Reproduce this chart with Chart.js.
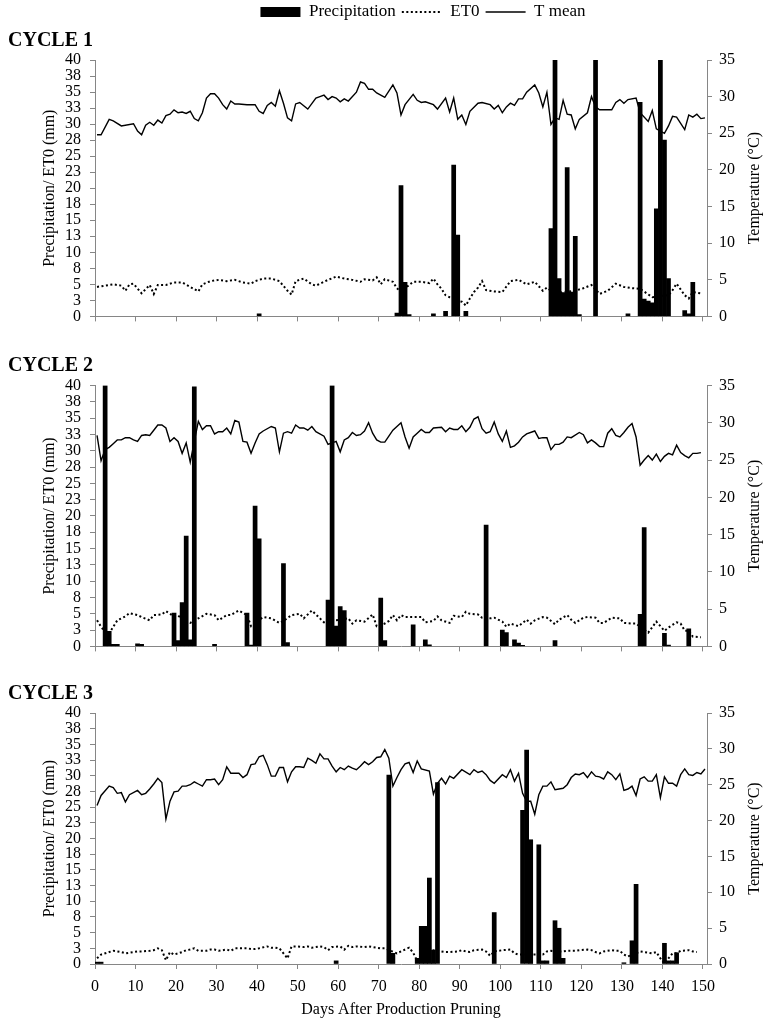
<!DOCTYPE html>
<html>
<head>
<meta charset="utf-8">
<script src="https://cdn.jsdelivr.net/npm/chart.js"></script>
<style>
html,body{margin:0;padding:0;background:#fff;}
#wrap{position:relative;width:767px;height:1025px;overflow:hidden;}
canvas{position:absolute;left:0;}
</style>
</head>
<body>
<div id="wrap">
<canvas id="c1" width="767" height="335" style="top:0px"></canvas>
<canvas id="c2" width="767" height="330" style="top:335px"></canvas>
<canvas id="c3" width="767" height="360" style="top:665px"></canvas>
</div>
<script>
// ---------- axis ticks / labels ----------
const DAY_TICKS = [0,10,20,30,40,50,60,70,80,90,100,110,120,130,140,150];
const DAY_AXIS_MAX = 151;
const PRECIP_TICK_VALUES = [0,2.5,5,7.5,10,12.5,15,17.5,20,22.5,25,27.5,30,32.5,35,37.5,40];
const PRECIP_TICK_LABELS = ['0','3','5','8','10','13','15','18','20','23','25','28','30','33','35','38','40'];
const TEMP_TICK_VALUES = [0,5,10,15,20,25,30,35];
const SERIES_NAMES = ['Precipitation','ET0','T mean'];
const CYCLE_TITLES = ['CYCLE 1','CYCLE 2','CYCLE 3'];
const LEFT_AXIS_TITLE = 'Precipitation/ ET0 (mm)';
const RIGHT_AXIS_TITLE = 'Temperature (°C)';
const X_AXIS_TITLE = 'Days After Production Pruning';

// ---------- CYCLE 1 : [day, value] ----------
const c1Rain = [[40,0.4],[74,0.5],[75,20.4],[76,5.3],[77,0.3],[83,0.4],[86,0.8],[88,23.6],[89,12.7],[91,0.8],
 [112,13.7],[113,40],[114,5.9],[115,3.7],[116,23.2],[117,3.8],[118,12.5],[119,0.3],[123,40],[131,0.4],
 [134,33.4],[135,2.7],[136,2.4],[137,2.1],[138,16.8],[139,40],[140,27.5],[141,5.9],[145,0.9],[146,0.4],[147,5.3]];
const c1ET0 = [[0,4.6],[2,4.8],[4,5.0],[6,4.8],[7,4.0],[8,5.0],[9,5.1],[11,3.6],[13,4.9],[14,3.5],[15,4.9],[17,4.9],
 [19,5.3],[21,5.3],[23,4.6],[25,3.9],[26,5.0],[28,5.5],[30,5.7],[32,5.5],[34,5.7],[36,5.3],[38,5.1],[39,5.5],[41,5.9],
 [43,5.9],[45,5.5],[47,4.0],[48,3.4],[49,5.5],[51,5.9],[53,5.0],[54,4.8],[57,5.7],[59,6.2],[61,5.9],[63,5.7],[65,5.4],
 [66,5.8],[68,5.6],[69,6.1],[70,5.0],[71,5.8],[73,5.4],[74,4.4],[75,3.8],[77,4.9],[78,5.4],[80,5.4],[82,5.2],[83,5.9],
 [84,5.0],[85,4.3],[86,3.3],[87,3.0],[88,2.9],[89,2.4],[90,2.3],[91,1.7],[92,2.8],[93,3.8],[94,4.5],[95,5.5],[96,4.1],
 [98,3.9],[100,3.8],[102,5.5],[104,5.7],[106,5.0],[108,5.4],[110,4.0],[111,4.5],[113,3.5],[115,3.8],[118,4.0],[120,4.4],
 [122,4.9],[124,3.5],[126,4.0],[128,5.1],[130,4.6],[132,4.4],[134,4.3],[137,3.0],[138,3.1],[141,3.3],[142,4.1],[143,5.1],
 [145,3.3],[146,2.8],[147,3.8],[149,3.6]];
const c1Temp = [[0,24.8],[1,24.8],[3,26.9],[4,26.7],[6,26.0],[9,26.3],[10,25.3],[11,24.8],[12,26.1],[13,26.5],[14,26.1],
 [15,26.8],[16,26.4],[17,27.4],[18,27.6],[19,28.2],[20,27.8],[21,27.9],[22,27.7],[23,28.0],[24,27.0],[25,26.7],[26,27.8],
 [27,29.8],[28,30.4],[29,30.4],[30,29.8],[31,28.9],[32,28.3],[33,29.4],[34,29.0],[35,29.0],[37,28.9],[39,28.9],[40,28.0],
 [41,27.7],[42,28.8],[43,29.2],[44,28.7],[45,30.8],[46,29.1],[47,27.1],[48,26.7],[49,29.0],[50,29.2],[52,28.3],[54,29.8],
 [55,30.0],[56,30.2],[57,29.6],[58,30.0],[59,29.8],[60,29.3],[61,29.7],[62,29.4],[64,30.6],[65,32.0],[66,31.8],[67,31.0],
 [68,31.0],[69,30.5],[71,29.9],[73,31.6],[74,30.5],[75,27.5],[76,28.9],[78,30.3],[79,29.5],[80,29.2],[81,29.3],[83,28.9],
 [84,28.3],[86,29.8],[87,27.9],[88,29.8],[89,26.9],[90,27.5],[91,26.2],[92,28.0],[94,29.1],[95,29.2],[97,28.9],[98,28.3],
 [99,28.8],[100,27.8],[101,28.6],[102,29.1],[103,28.8],[104,29.7],[105,29.7],[106,30.6],[108,31.6],[109,30.5],[110,28.6],
 [111,30.6],[112,26.2],[113,27.1],[114,26.9],[115,29.5],[116,27.6],[117,27.5],[118,25.6],[119,26.9],[121,27.8],[122,30.0],
 [123,28.6],[124,28.2],[127,28.2],[128,29.2],[129,29.6],[130,29.1],[131,29.6],[133,29.8],[134,27.8],[136,26.6],[137,28.1],
 [138,25.6],[140,25.0],[141,26.0],[142,27.3],[143,27.2],[145,25.5],[146,27.5],[147,27.2],[148,27.6],[149,27.0],[150,27.1]];

// ---------- CYCLE 2 ----------
const c2Rain = [[2,40],[3,2.3],[4,0.3],[5,0.3],[10,0.4],[11,0.3],[19,5.1],[20,0.9],[21,6.7],[22,16.9],[23,1.0],[24,39.8],
 [29,0.3],[37,5.1],[38,0.2],[39,21.5],[40,16.5],[46,12.7],[47,0.6],[57,7.1],[58,40],[59,3.1],[60,6.1],[61,5.5],[70,7.4],
 [71,0.9],[78,3.3],[81,1.0],[82,0.25],[96,18.6],[100,2.5],[101,2.1],[103,1.0],[104,0.5],[105,0.15],[113,0.9],[134,4.9],
 [135,18.2],[140,2.0],[141,0.2],[146,2.7]];
const c2ET0 = [[0,4.0],[1,3.0],[2,2.2],[3,2.0],[4,3.0],[5,4.0],[7,4.6],[8,5.1],[10,4.8],[11,4.5],[13,4.0],[14,4.8],[16,4.9],
 [17,5.4],[19,4.6],[20,4.7],[23,3.6],[25,4.3],[27,5.0],[29,4.8],[30,4.0],[32,4.8],[33,4.8],[35,5.5],[37,4.8],[38,3.1],
 [41,4.5],[43,4.3],[45,3.6],[46,3.9],[48,4.8],[50,5.0],[51,4.3],[53,5.5],[55,4.3],[56,3.7],[57,3.9],[59,4.0],[62,4.3],
 [63,3.5],[64,4.0],[66,3.8],[68,4.9],[69,3.1],[71,3.5],[72,3.9],[73,4.8],[74,4.0],[75,4.8],[76,4.5],[79,4.5],[80,4.5],
 [81,3.7],[83,3.9],[84,4.6],[85,4.0],[87,3.6],[88,4.7],[90,4.5],[91,5.3],[92,5.0],[94,4.9],[95,4.4],[97,4.3],[98,4.4],
 [100,3.8],[101,3.0],[102,3.5],[104,3.1],[105,3.6],[106,4.1],[107,3.5],[108,4.0],[110,4.5],[111,4.4],[113,3.4],[114,4.1],
 [116,4.8],[117,4.1],[118,3.6],[120,4.4],[121,4.5],[123,4.4],[124,3.6],[125,3.6],[127,4.4],[129,4.3],[130,3.6],[132,3.5],
 [133,3.5],[134,3.0],[136,2.1],[138,3.8],[139,3.1],[140,2.4],[141,2.9],[143,3.7],[144,3.5],[145,2.4],[146,2.4],[147,1.5],
 [149,1.4]];
const c2Temp = [[0,28.3],[1,24.9],[2,26.4],[3,26.7],[4,27.2],[5,27.7],[6,27.7],[7,28.0],[8,28.0],[9,27.7],[10,27.5],
 [11,28.3],[12,28.4],[13,28.3],[14,29.0],[15,29.7],[16,29.7],[17,29.3],[18,27.5],[19,28.0],[20,27.5],[21,25.9],[22,27.3],
 [23,24.7],[24,27.5],[25,30.2],[26,29.1],[27,29.6],[28,29.6],[29,28.5],[30,28.8],[31,28.8],[32,29.3],[33,28.5],[34,30.3],
 [35,30.1],[36,27.5],[37,27.4],[38,25.9],[39,27.3],[40,28.5],[41,28.9],[43,29.5],[44,29.3],[45,26.1],[46,28.6],[47,28.8],
 [48,28.6],[49,29.7],[50,29.3],[51,29.3],[52,29.0],[53,29.5],[54,28.8],[56,28.2],[57,27.1],[58,27.3],[59,27.5],[60,26.1],
 [61,27.7],[62,28.0],[63,28.7],[64,28.3],[65,28.4],[66,28.9],[67,30.0],[68,28.6],[69,27.7],[70,27.4],[71,27.4],[72,28.2],
 [73,29.0],[75,30.0],[76,28.1],[77,26.6],[78,28.1],[79,28.6],[80,29.1],[81,28.7],[82,28.7],[83,29.3],[85,29.4],[86,28.8],
 [87,29.3],[88,29.1],[89,29.1],[90,29.6],[91,28.8],[92,29.4],[93,30.5],[94,30.8],[95,29.2],[96,28.6],[97,28.8],[98,30.1],
 [99,28.5],[100,27.5],[101,28.9],[102,26.7],[103,26.9],[104,27.4],[105,28.1],[106,28.5],[108,28.9],[109,27.9],[110,28.0],
 [111,28.0],[112,26.4],[113,27.1],[114,27.1],[115,27.4],[116,28.1],[117,28.0],[119,28.7],[120,28.4],[121,27.3],[122,27.7],
 [123,27.3],[124,26.8],[125,26.8],[126,28.6],[127,29.2],[128,28.3],[129,28.1],[130,28.7],[131,29.4],[132,29.9],[133,28.1],
 [134,24.3],[135,25.0],[136,25.6],[137,25.0],[138,25.8],[139,24.8],[140,25.5],[141,25.9],[142,25.7],[143,27.0],[144,26.0],
 [145,25.6],[146,25.3],[147,25.9],[148,25.9],[149,26.0]];

// ---------- CYCLE 3 ----------
const c3Rain = [[0,0.3],[1,0.3],[59,0.5],[72,30.1],[73,1.7],[79,0.9],[80,6.0],[81,6.0],[82,13.7],[83,2.2],[84,28.9],
 [98,8.2],[105,24.5],[106,34.1],[107,19.8],[109,19.0],[110,0.5],[111,0.5],[113,6.9],[114,5.7],[115,0.9],[130,0.2],
 [132,3.7],[133,12.7],[140,3.3],[141,0.5],[142,0.5],[143,1.8]];
const c3ET0 = [[0,0.9],[1,1.5],[3,1.9],[4,2.1],[5,2.0],[6,1.9],[7,1.7],[9,1.9],[10,2.0],[11,2.0],[13,2.1],[14,2.2],[15,2.5],
 [16,2.2],[17,0.6],[18,1.9],[19,1.5],[21,1.9],[22,2.2],[23,2.3],[24,2.5],[25,2.1],[27,2.1],[28,2.3],[29,2.3],[30,2.1],
 [32,2.3],[33,2.1],[34,2.5],[35,2.5],[37,2.5],[38,2.4],[39,2.4],[40,2.5],[42,2.8],[43,2.6],[44,2.6],[45,2.5],[46,1.7],
 [47,0.9],[48,2.8],[49,2.8],[51,2.7],[52,2.8],[53,2.6],[55,2.8],[56,2.7],[57,2.2],[58,2.7],[60,2.8],[61,2.3],[62,2.9],
 [63,2.7],[64,2.8],[66,2.7],[67,2.8],[68,2.7],[70,2.5],[71,2.5],[74,1.7],[75,2.0],[77,2.6],[78,1.8],[79,0.5],[83,2.2],
 [86,1.9],[87,1.9],[89,2.0],[90,2.2],[91,2.0],[92,1.9],[93,2.2],[95,2.3],[96,2.0],[97,1.3],[98,2.0],[99,2.1],[100,2.2],
 [102,2.3],[103,1.7],[104,1.5],[110,1.5],[111,2.0],[112,2.1],[114,2.0],[115,2.0],[116,2.1],[118,2.1],[119,2.2],[121,2.3],
 [122,2.2],[123,1.9],[124,1.7],[125,2.0],[127,2.2],[128,2.1],[129,2.1],[130,1.5],[131,1.2],[134,2.0],[135,1.9],[137,1.7],
 [138,1.9],[139,0.9],[140,0.1],[142,1.7],[143,1.7],[144,2.1],[146,2.2],[147,2.0],[148,1.9]];
const c3Temp = [[0,22.1],[1,23.5],[3,24.8],[4,24.6],[5,23.8],[6,23.9],[7,22.6],[8,23.6],[10,24.2],[11,23.6],[12,23.8],
 [13,24.4],[14,25.1],[15,25.9],[16,25.3],[17,20.2],[18,22.7],[19,24.0],[20,24.1],[21,24.8],[22,24.8],[23,25.0],[24,25.4],
 [25,25.1],[26,24.8],[27,25.7],[28,25.7],[29,25.8],[30,25.0],[31,25.7],[32,27.5],[33,26.6],[35,26.6],[36,26.0],[37,26.4],
 [38,27.8],[39,27.9],[40,28.9],[41,29.1],[42,27.8],[43,26.2],[44,26.2],[45,27.4],[46,27.4],[47,25.4],[48,26.8],[49,27.5],
 [50,27.5],[51,27.4],[52,28.7],[53,28.4],[54,28.0],[55,29.3],[56,28.6],[57,28.6],[58,27.6],[59,26.8],[60,27.4],[61,27.1],
 [62,27.6],[63,27.3],[64,27.1],[65,27.6],[66,28.2],[67,27.8],[68,28.2],[69,28.8],[70,28.9],[71,29.9],[72,28.7],[73,24.8],
 [74,26.0],[75,27.1],[76,27.9],[77,28.1],[78,26.7],[79,28.3],[80,27.2],[82,26.9],[83,23.7],[84,25.2],[85,25.9],[86,25.1],
 [87,26.2],[88,25.9],[90,27.1],[92,26.4],[93,27.1],[94,26.7],[95,26.9],[96,26.4],[97,25.6],[98,25.2],[100,26.4],[101,26.0],
 [102,27.1],[103,25.5],[104,26.6],[105,23.8],[106,22.7],[107,22.7],[108,20.9],[109,23.6],[110,24.8],[111,24.8],[112,25.4],
 [113,24.3],[115,24.5],[116,25.0],[117,26.0],[118,26.5],[119,26.4],[120,26.7],[121,26.0],[122,26.8],[123,26.2],[124,26.1],
 [125,25.8],[126,26.8],[127,26.4],[128,25.7],[129,26.5],[130,24.2],[131,24.4],[132,24.8],[133,23.5],[134,25.8],[135,26.1],
 [136,25.5],[137,25.5],[138,26.4],[139,23.2],[140,26.1],[141,25.2],[142,25.2],[143,24.8],[144,26.4],[145,27.2],[146,26.4],
 [147,26.3],[148,26.7],[149,26.5],[150,27.2]];

// ---------- styling / layout ----------
const FONT = 'Liberation Serif';
const AXIS_GREY = '#868686';
const INK = '#000000';
const DAY_CENTER = 0.5;   // each daily value sits in the middle of its day slot
const LEGEND_SHIFT = 22;  // legend sits a little right of the plot centre
Chart.defaults.font.family = FONT;
Chart.defaults.color = INK;

const toPts = (pairs) => pairs.map(([d, v]) => ({x: d + DAY_CENTER, y: v}));

const rightTitlePlugin = {
  id: 'rightTitle',
  afterLayout(chart) {
    if (chart.legend && chart.options.plugins.legend.display) {
      chart.legend.left += LEGEND_SHIFT;
      chart.legend.right += LEGEND_SHIFT;
    }
  },
  afterDraw(chart) {
    const {ctx, chartArea} = chart;
    ctx.save();
    ctx.translate(755, (chartArea.top + chartArea.bottom) / 2);
    ctx.rotate(-Math.PI / 2);
    ctx.font = '16px "' + FONT + '"';
    ctx.fillStyle = INK;
    ctx.textAlign = 'center';
    ctx.textBaseline = 'middle';
    ctx.fillText(RIGHT_AXIS_TITLE, 0, 0);
    ctx.restore();
  }
};

function buildChart(id, p) {
  return new Chart(document.getElementById(id), {
    data: {
      datasets: [
        {type: 'bar', label: SERIES_NAMES[0], data: toPts(p.rain), yAxisID: 'y',
         backgroundColor: INK, borderWidth: 0, barPercentage: 1, categoryPercentage: 1, order: 2},
        {type: 'line', label: SERIES_NAMES[1], data: toPts(p.et0), yAxisID: 'y',
         borderColor: INK, borderWidth: 2, borderDash: [2, 2.5], pointRadius: 0, fill: false, tension: 0, order: 1},
        {type: 'line', label: SERIES_NAMES[2], data: toPts(p.temp), yAxisID: 'yT',
         borderColor: INK, borderWidth: 1.4, pointRadius: 0, fill: false, tension: 0, order: 0}
      ]
    },
    options: {
      responsive: false, animation: false, events: [],
      layout: {padding: {top: p.padTop, left: 8, right: 0, bottom: 0}},
      plugins: {
        tooltip: {enabled: false},
        legend: {
          display: p.legend, position: 'top', weight: 3000, fullSize: false,
          labels: {
            usePointStyle: true, pointStyleWidth: 40, boxHeight: 10, padding: 6,
            font: {size: 17, family: FONT}, color: INK,
            generateLabels: (chart) => chart.data.datasets.map((ds, i) => ({
              text: ds.label, datasetIndex: i, hidden: false,
              fillStyle: ds.type === 'bar' ? INK : 'rgba(0,0,0,0)',
              strokeStyle: INK,
              lineWidth: ds.type === 'bar' ? 0 : ds.borderWidth,
              lineDash: ds.borderDash || [],
              pointStyle: ds.type === 'bar' ? 'rect' : 'line'
            }))
          }
        },
        title: {
          display: true, text: p.title, align: 'start', color: INK,
          font: {family: FONT, size: 20, weight: 'bold'},
          padding: {top: p.titlePadTop, bottom: p.titlePadBottom}
        }
      },
      scales: {
        x: {
          type: 'linear', position: 'bottom', min: 0, max: DAY_AXIS_MAX, offset: false,
          afterBuildTicks: (s) => { s.ticks = DAY_TICKS.map(v => ({value: v})); },
          afterFit: (s) => { s.height = p.xAxisHeight; },
          ticks: {display: p.xLabels, autoSkip: false, maxRotation: 0, minRotation: 0, padding: 8,
                  font: {size: 16}, color: INK},
          grid: {display: true, offset: false, drawOnChartArea: false, drawTicks: true, tickLength: 5, color: AXIS_GREY},
          border: {display: true, color: AXIS_GREY, width: 1},
          title: {display: p.xLabels, text: X_AXIS_TITLE, color: INK, font: {size: 16},
                  padding: {top: 0, bottom: 5.4}}
        },
        y: {
          type: 'linear', position: 'left', min: 0, max: 40,
          afterBuildTicks: (s) => { s.ticks = PRECIP_TICK_VALUES.map(v => ({value: v})); },
          afterFit: (s) => { s.width = 87; },
          ticks: {autoSkip: false, padding: 9, font: {size: 16}, color: INK,
                  callback: (v, i) => PRECIP_TICK_LABELS[i]},
          grid: {display: true, drawOnChartArea: false, drawTicks: true, tickLength: 5, color: AXIS_GREY},
          border: {display: true, color: AXIS_GREY, width: 1},
          title: {display: true, text: LEFT_AXIS_TITLE, color: INK, font: {size: 16},
                  padding: {top: 32.4, bottom: 0}}
        },
        yT: {
          type: 'linear', position: 'right', min: 0, max: 35,
          afterBuildTicks: (s) => { s.ticks = TEMP_TICK_VALUES.map(v => ({value: v})); },
          afterFit: (s) => { s.width = 60; },
          ticks: {autoSkip: false, padding: 7, font: {size: 16}, color: INK},
          grid: {display: true, drawOnChartArea: false, drawTicks: true, tickLength: 5, color: AXIS_GREY},
          border: {display: true, color: AXIS_GREY, width: 1}
        }
      }
    },
    plugins: [rightTitlePlugin]
  });
}

buildChart('c1', {title: CYCLE_TITLES[0], rain: c1Rain, et0: c1ET0, temp: c1Temp, legend: true,
  padTop: -2.5, titlePadTop: -2, titlePadBottom: 7.5, xAxisHeight: 10, xLabels: false});
buildChart('c2', {title: CYCLE_TITLES[1], rain: c2Rain, et0: c2ET0, temp: c2Temp, legend: false,
  padTop: 18.5, titlePadTop: 0, titlePadBottom: 8, xAxisHeight: 11, xLabels: false});
buildChart('c3', {title: CYCLE_TITLES[2], rain: c3Rain, et0: c3ET0, temp: c3Temp, legend: false,
  padTop: 17.3, titlePadTop: 0, titlePadBottom: 6.7, xAxisHeight: 61, xLabels: true});
</script>
</body>
</html>
